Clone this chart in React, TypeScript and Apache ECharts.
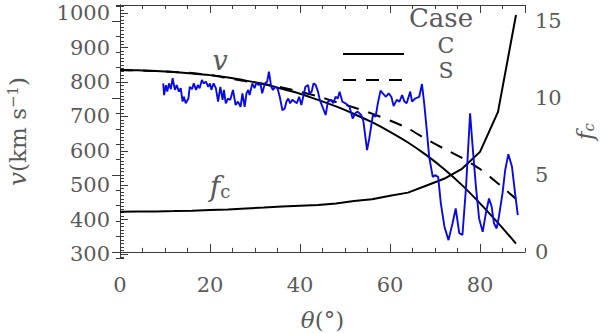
import React, { useEffect, useRef } from 'react';
import * as echarts from 'echarts';

// model curves sampled every 4 degrees
const thetaModel = [0, 4, 8, 12, 16, 20, 24, 28, 32, 36, 40, 44, 48, 52, 56, 60, 64, 68, 72, 76, 80, 84, 88];
const vCaseC = [835, 834, 832, 829, 825, 820, 813, 804, 794, 780, 766, 748, 729, 707, 683, 655, 624, 588, 547, 500, 447, 390, 330];
const vCaseS = [835, 834, 832, 829, 826, 820, 811, 802, 794, 784, 772, 758, 742, 726, 708, 688, 665, 634, 606, 579, 547, 505, 460];
const fcModel = [2.61, 2.62, 2.63, 2.65, 2.68, 2.72, 2.76, 2.82, 2.88, 2.95, 3.0, 3.05, 3.15, 3.3, 3.42, 3.65, 3.85, 4.3, 4.75, 5.4, 6.5, 9.1, 15.4];

// observed speeds
const obsTheta = [
  9.6, 9.8, 10.2, 10.5, 10.9, 11.3, 11.7, 12.2, 12.6, 13.1, 13.5, 13.9, 14.2, 14.6, 15.2, 15.5, 16.0, 16.4, 16.9, 17.3,
  17.7, 18.2, 18.6, 19.1, 19.6, 20.0, 20.3, 20.8, 21.3, 21.8, 22.3, 22.8, 23.1, 23.5, 24.0, 24.5, 25.1, 25.7, 26.2, 26.8,
  27.2, 27.7, 28.1, 28.5, 28.8, 29.4, 29.9, 30.3, 30.8, 31.2, 31.6, 32.2, 32.7, 33.1, 33.6, 34.0, 34.5, 35.0, 35.5, 36.1,
  36.6, 37.0, 37.4, 37.8, 38.3, 38.8, 39.3, 39.8, 40.3, 40.8, 41.2, 41.8, 42.1, 42.6, 43.0, 43.5, 44.0, 44.4, 44.7, 45.7,
  46.2, 46.9, 47.4, 47.9, 48.4, 48.8, 49.4, 50.1, 51.0, 51.7, 52.3, 52.8, 53.6, 54.1, 54.9, 55.4, 56.2, 56.8, 57.3, 57.9,
  58.4, 59.1, 59.7, 60.3, 60.8, 61.5, 62.1, 62.7, 63.2, 63.7, 64.5, 64.9, 65.6, 66.5, 67.1, 67.6, 68.1, 68.7, 69.5, 70.0,
  70.7, 71.3, 72.1, 73.0, 73.9, 74.6, 75.4, 76.1, 76.9, 77.8, 78.3, 79.1, 79.8, 80.6, 81.3, 82.0, 82.6, 83.1, 83.7, 84.2,
  85.0, 85.6, 86.3, 87.1, 87.8, 88.4
];
const obsV = [
  796, 762, 791, 772, 796, 779, 811, 777, 791, 772, 782, 743, 757, 738, 752, 786, 779, 796, 777, 791,
  782, 806, 796, 801, 786, 796, 777, 796, 782, 743, 786, 748, 777, 738, 752, 748, 777, 733, 743, 728,
  767, 728, 767, 777, 762, 796, 782, 798, 791, 796, 767, 796, 801, 830, 786, 777, 786, 782, 757, 718,
  723, 743, 752, 738, 748, 743, 738, 757, 733, 762, 786, 791, 767, 772, 796, 791, 772, 748, 738, 704,
  743, 748, 738, 757, 752, 772, 743, 738, 728, 694, 709, 714, 704, 685, 602, 636, 704, 699, 738, 775,
  767, 757, 767, 757, 730, 748, 743, 762, 743, 738, 772, 743, 752, 757, 794, 738, 670, 583, 524, 529,
  524, 447, 379, 340, 389, 432, 360, 355, 495, 709, 622, 495, 403, 364, 418, 461, 437, 389, 374, 408,
  476, 544, 590, 554, 476, 413
];

const legendCases = ['C', 'S'];
const FONT = 'DejaVu Serif';
const TXT = '#5a5a5a';
const AX = '#3a3a3a';

export default function App() {
  const ref = useRef<HTMLDivElement>(null);
  useEffect(() => {
    if (!ref.current) return;
    const chart = echarts.init(ref.current, undefined, { renderer: 'svg' });
    const labelStyle = { fontFamily: FONT, fontSize: 21, color: TXT, formatter: (v: number) => String(v) };
    const majorTick = { inside: true, length: 8, lineStyle: { color: AX, width: 1 } };
    const minorTick = { inside: true, length: 4, lineStyle: { color: AX, width: 1 } };
    const hiddenLine = { show: false };
    chart.setOption({
      animation: false,
      backgroundColor: '#fff',
      grid: { left: 120, right: 75, top: 5, bottom: 75, containLabel: false, outerBoundsMode: 'none' },
      xAxis: [
        {
          type: 'value', min: 0, max: 90, interval: 20, position: 'bottom',
          axisLine: { show: true, lineStyle: { color: AX, width: 1 } },
          axisTick: majorTick,
          axisLabel: { ...labelStyle, margin: 16, showMaxLabel: false },
          splitLine: { show: false },
          name: '{i|θ}(°)', nameLocation: 'middle', nameGap: 50,
          nameTextStyle: {
            fontFamily: FONT, fontSize: 23, color: TXT,
            rich: { i: { fontFamily: FONT, fontSize: 23, fontStyle: 'italic', color: TXT } },
          },
        },
        {
          type: 'value', min: 0, max: 90, interval: 5, position: 'bottom',
          axisLine: hiddenLine, axisTick: minorTick, axisLabel: { show: false }, splitLine: { show: false },
        },
        {
          type: 'value', min: 0, max: 90, interval: 20, position: 'top',
          axisLine: { show: true, lineStyle: { color: AX, width: 1 } },
          axisTick: majorTick, axisLabel: { show: false }, splitLine: { show: false },
        },
        {
          type: 'value', min: 0, max: 90, interval: 5, position: 'top',
          axisLine: hiddenLine, axisTick: minorTick, axisLabel: { show: false }, splitLine: { show: false },
        },
      ],
      yAxis: [
        {
          type: 'value', min: 288, max: 1024, minInterval: 100, maxInterval: 100, position: 'left',
          axisLine: { show: true, lineStyle: { color: AX, width: 1 } },
          axisTick: majorTick,
          axisLabel: { ...labelStyle, margin: 10, showMinLabel: false, showMaxLabel: false },
          splitLine: { show: false },
          name: '{i|v}(km s{s|−1})', nameLocation: 'middle', nameGap: 90, nameRotate: 90,
          nameTextStyle: {
            fontFamily: FONT, fontSize: 23, color: TXT,
            rich: {
              i: { fontFamily: FONT, fontSize: 25, fontStyle: 'italic', color: TXT },
              s: { fontFamily: FONT, fontSize: 15, color: TXT, verticalAlign: 'top' },
            },
          },
        },
        {
          type: 'value', min: 288, max: 1024, minInterval: 10, maxInterval: 10, position: 'left',
          axisLine: hiddenLine, axisTick: minorTick, axisLabel: { show: false }, splitLine: { show: false },
        },
        {
          type: 'value', min: -0.4, max: 16.05, minInterval: 5, maxInterval: 5, position: 'right',
          axisLine: { show: true, lineStyle: { color: AX, width: 1 } },
          axisTick: majorTick,
          axisLabel: { ...labelStyle, margin: 10, showMinLabel: false, showMaxLabel: false },
          splitLine: { show: false },
          name: '{i|f}{c|c}', nameLocation: 'middle', nameGap: 48, nameRotate: 90,
          nameTextStyle: {
            fontFamily: FONT, fontSize: 23, color: TXT,
            rich: {
              i: { fontFamily: FONT, fontSize: 23, fontStyle: 'italic', color: TXT },
              c: { fontFamily: FONT, fontSize: 15, fontStyle: 'italic', color: TXT, verticalAlign: 'bottom' },
            },
          },
        },
        {
          type: 'value', min: -0.4, max: 16.05, minInterval: 1, maxInterval: 1, position: 'right',
          axisLine: hiddenLine, axisTick: minorTick, axisLabel: { show: false }, splitLine: { show: false },
        },
      ],
      series: [
        {
          name: 'C', type: 'line', xAxisIndex: 0, yAxisIndex: 0, showSymbol: false, smooth: 0.2,
          lineStyle: { color: '#000', width: 2 },
          data: thetaModel.map((t, i) => [t, vCaseC[i]]),
        },
        {
          name: 'S', type: 'line', xAxisIndex: 0, yAxisIndex: 0, showSymbol: false, smooth: 0.2,
          lineStyle: { color: '#000', width: 2, type: [13, 10] },
          data: thetaModel.map((t, i) => [t, vCaseS[i]]),
        },
        {
          name: 'fc', type: 'line', xAxisIndex: 0, yAxisIndex: 2, showSymbol: false,
          lineStyle: { color: '#000', width: 2 },
          data: thetaModel.map((t, i) => [t, fcModel[i]]),
        },
        {
          name: 'obs', type: 'line', xAxisIndex: 0, yAxisIndex: 0, showSymbol: false,
          lineStyle: { color: '#0a0ae6', width: 1.9 },
          data: obsTheta.map((t, i) => [t, obsV[i]]),
        },
      ],
      graphic: [
        { type: 'text', x: 220, y: 60, style: { text: 'v', fontFamily: FONT, fontSize: 27, fontStyle: 'italic', fill: TXT, align: 'center', verticalAlign: 'middle' } },
        {
          type: 'text', x: 220, y: 186,
          style: {
            text: '{f|f}{c|c}', align: 'center', verticalAlign: 'middle', fill: TXT,
            rich: {
              f: { fontFamily: FONT, fontSize: 28, fontStyle: 'italic', fill: TXT },
              c: { fontFamily: FONT, fontSize: 18, fill: TXT, verticalAlign: 'bottom' },
            },
          },
        },
        { type: 'text', x: 441, y: 18, style: { text: 'Case', fontFamily: FONT, fontSize: 26, fill: TXT, align: 'center', verticalAlign: 'middle' } },
        { type: 'text', x: 446, y: 45, style: { text: legendCases[0], fontFamily: FONT, fontSize: 22, fill: TXT, align: 'center', verticalAlign: 'middle' } },
        { type: 'text', x: 446, y: 70, style: { text: legendCases[1], fontFamily: FONT, fontSize: 22, fill: TXT, align: 'center', verticalAlign: 'middle' } },
        { type: 'line', shape: { x1: 343, y1: 54, x2: 404, y2: 54 }, style: { stroke: '#000', lineWidth: 2 } },
        { type: 'line', shape: { x1: 343, y1: 80, x2: 404, y2: 80 }, style: { stroke: '#000', lineWidth: 2, lineDash: [13, 10] } },
      ],
    });
    return () => chart.dispose();
  }, []);
  return <div ref={ref} style={{ position: 'fixed', left: 0, top: 0, width: 600, height: 333 }} />;
}
